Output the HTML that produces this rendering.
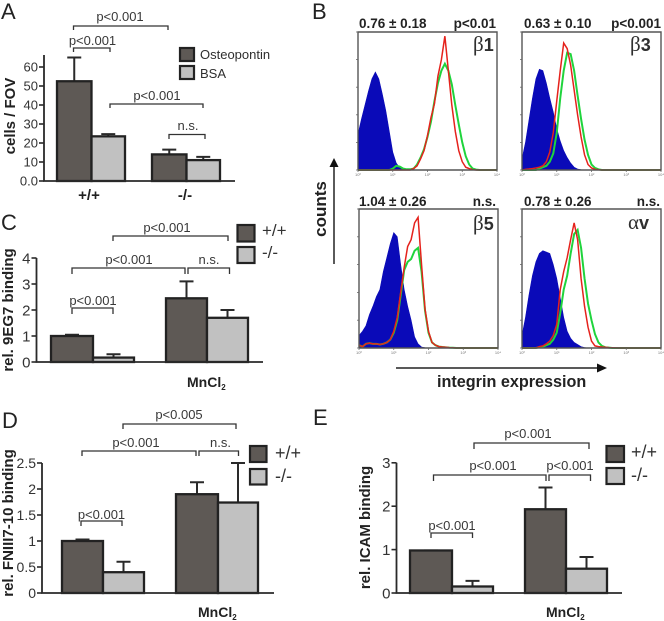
<!DOCTYPE html>
<html lang="en">
<head>
<meta charset="utf-8">
<title>Integrin binding and expression figure</title>
<style>
html,body{margin:0;padding:0;background:#fff;}
svg{display:block;filter:blur(0.35px);}
text{font-family:"Liberation Sans",sans-serif;fill:#2f2f2f;}
.p{font-size:13px;text-anchor:middle;fill:#383838;}
.br{fill:none;stroke:#333;stroke-width:1.3;}
.letter{font-size:22px;fill:#222;}
.ylab{font-size:15px;font-weight:bold;text-anchor:middle;fill:#222;}
.legend{font-size:18px;fill:#333;}
.bold{font-weight:bold;fill:#222;}
.sw{stroke:#222;stroke-width:2.2;}
.dark{fill:#5e5955;}
.light{fill:#c1c1c1;}
</style>
</head>
<body>
<svg id="figure" width="664" height="621" viewBox="0 0 664 621" xmlns="http://www.w3.org/2000/svg">
<rect width="664" height="621" fill="#fff"/>

<g id="panel-a">
<text class="letter" x="1" y="19">A</text>
<text class="ylab" transform="translate(15,116) rotate(-90)">cells / FOV</text>
<path class="br" d="M73.5 30V26H168V30"/>
<text class="p" x="120" y="21">p&lt;0.001</text>
<path class="br" d="M73.5 52V48H110V52"/>
<text class="p" x="92.5" y="45">p&lt;0.001</text>
<path class="br" d="M110 108V104H203V108"/>
<text class="p" x="157" y="100">p&lt;0.001</text>
<path class="br" d="M169 139V134.500H205V139"/>
<text class="p" x="188" y="130">n.s.</text>
<rect class="sw dark" x="180" y="48" width="14" height="13"/>
<rect class="sw light" x="180" y="66" width="14" height="13"/>
<text x="200" y="59" style="font-size:13px">Osteopontin</text>
<text x="200" y="78" style="font-size:13px">BSA</text>
<text class="bold" x="89" y="200" text-anchor="middle" style="font-size:15px">+/+</text>
<text class="bold" x="185" y="200" text-anchor="middle" style="font-size:15px">-/-</text>
</g>

<g id="panel-c">
<text class="letter" x="1" y="230">C</text>
<text class="ylab" transform="translate(13,310) rotate(-90)">rel. 9EG7 binding</text>
<path class="br" d="M113 241V236H228V241"/>
<text class="p" x="167" y="232">p&lt;0.001</text>
<path class="br" d="M72 274V268H185V274"/>
<text class="p" x="129" y="264">p&lt;0.001</text>
<path class="br" d="M188 274V268H229.500V274"/>
<text class="p" x="209" y="264">n.s.</text>
<path class="br" d="M72 314V308H113V314"/>
<text class="p" x="93" y="305">p&lt;0.001</text>
<rect class="sw dark" x="237.500" y="225" width="17" height="16.500"/>
<rect class="sw light" x="237.500" y="247" width="17" height="16"/>
<text class="legend" x="262" y="236" style="font-size:17px">+/+</text>
<text class="legend" x="262" y="258" style="font-size:17px">-/-</text>
<text class="bold" x="187" y="387" style="font-size:14px">MnCl<tspan dy="3" style="font-size:8px">2</tspan></text>
</g>

<g id="panel-d">
<text class="letter" x="2" y="428">D</text>
<text class="ylab" transform="translate(13,523) rotate(-90)">rel. FNIII7-10 binding</text>
<path class="br" d="M123 429V424H236V429"/>
<text class="p" x="179" y="419">p&lt;0.005</text>
<path class="br" d="M82 456V451H196V456"/>
<text class="p" x="136" y="447">p&lt;0.001</text>
<path class="br" d="M199 456V451H238.500V456"/>
<text class="p" x="220.500" y="447">n.s.</text>
<path class="br" d="M81 526V521H122V526"/>
<text class="p" x="101.500" y="519">p&lt;0.001</text>
<rect class="sw dark" x="250" y="446" width="16.500" height="16"/>
<rect class="sw light" x="250" y="469" width="16.500" height="15.500"/>
<text class="legend" x="275" y="459">+/+</text>
<text class="legend" x="275" y="482">-/-</text>
<text class="bold" x="198" y="617" style="font-size:14px">MnCl<tspan dy="3" style="font-size:8px">2</tspan></text>
</g>

<g id="panel-e">
<text class="letter" x="313" y="425">E</text>
<text class="ylab" transform="translate(370,527.500) rotate(-90)">rel. ICAM binding</text>
<path class="br" d="M474 449V443H589V449"/>
<text class="p" x="528" y="438">p&lt;0.001</text>
<path class="br" d="M433.500 481V475H546V481"/>
<text class="p" x="493" y="470">p&lt;0.001</text>
<path class="br" d="M549 481V475H590.500V481"/>
<text class="p" x="570" y="470">p&lt;0.001</text>
<path class="br" d="M431 538V533H472.500V538"/>
<text class="p" x="452" y="530">p&lt;0.001</text>
<rect class="sw dark" x="606.500" y="446" width="17.500" height="16"/>
<rect class="sw light" x="606.500" y="468" width="17.500" height="16"/>
<text class="legend" x="631" y="458">+/+</text>
<text class="legend" x="631" y="481">-/-</text>
<text class="bold" x="546" y="617" style="font-size:14px">MnCl<tspan dy="3" style="font-size:8px">2</tspan></text>
</g>

<g id="panel-b">
<text class="letter" x="312" y="19">B</text>
<text class="bold" x="359" y="28" style="font-size:13.500px">0.76 ± 0.18</text>
<text class="bold" x="496" y="28" text-anchor="end" style="font-size:13.500px">p&lt;0.01</text>
<text class="bold" x="524" y="28" style="font-size:13.500px">0.63 ± 0.10</text>
<text class="bold" x="661" y="28" text-anchor="end" style="font-size:13.500px">p&lt;0.001</text>
<text class="bold" x="359" y="206" style="font-size:13.500px">1.04 ± 0.26</text>
<text class="bold" x="496" y="206" text-anchor="end" style="font-size:13.500px">n.s.</text>
<text class="bold" x="524" y="206" style="font-size:13.500px">0.78 ± 0.26</text>
<text class="bold" x="660" y="206" text-anchor="end" style="font-size:13.500px">n.s.</text>
<path d="M334 264V164" stroke="#222" stroke-width="1.500" fill="none"/>
<path d="M334 158L338.500 167H329.500Z" fill="#111"/>
<text class="bold" transform="translate(326,209) rotate(-90)" text-anchor="middle" style="font-size:17px">counts</text>
<path d="M396 368H600" stroke="#222" stroke-width="1.500" fill="none"/>
<path d="M607 368L597 363.500V372.500Z" fill="#111"/>
<text class="bold" x="437" y="387" style="font-size:16.200px">integrin expression</text>
</g>
<g id="histograms"></g>
<g id="panel-b-labels">
<text x="473" y="51"><tspan style="font-family:'Liberation Serif',serif;font-size:21px">β</tspan><tspan style="font-weight:bold;font-size:18px">1</tspan></text>
<text x="630" y="51"><tspan style="font-family:'Liberation Serif',serif;font-size:21px">β</tspan><tspan style="font-weight:bold;font-size:18px">3</tspan></text>
<text x="473" y="230"><tspan style="font-family:'Liberation Serif',serif;font-size:21px">β</tspan><tspan style="font-weight:bold;font-size:18px">5</tspan></text>
<text x="628" y="229"><tspan style="font-family:'Liberation Serif',serif;font-size:21px">α</tspan><tspan style="font-weight:bold;font-size:18px">v</tspan></text>
</g>
</svg>

<script>
// Bar chart data
const barGroups = ['wt', 'ko', 'wt-mn', 'ko-mn'];
const panelAValues = [52.5, 23.5, 14, 11];
const panelAErrorTops = [65, 24.7, 16.5, 12.7];
const panelATicks = [0, 10, 20, 30, 40, 50, 60];
const panelATickLabels = ['0.0', '10', '20', '30', '40', '50', '60'];
const panelCValues = [1, 0.17, 2.45, 1.7];
const panelCErrorTops = [1.05, 0.3, 3.1, 2.0];
const panelCTicks = [0, 1, 2, 3, 4];
const panelCTickLabels = ['0', '1', '2', '3', '4'];
const panelDValues = [1, 0.4, 1.9, 1.74];
const panelDErrorTops = [1.03, 0.6, 2.13, 2.5];
const panelDTicks = [0, 0.5, 1, 1.5, 2, 2.5];
const panelDTickLabels = ['0', '0.5', '1', '1.5', '2', '2.5'];
const panelEValues = [0.98, 0.15, 1.93, 0.56];
const panelEErrorTops = [0.98, 0.28, 2.43, 0.83];
const panelETicks = [0, 1, 2, 3];
const panelETickLabels = ['0', '1', '2', '3'];

// Histogram data: percent of plot height, one value per 0.1 log decade
const beta1Isotype = [26,37,47,57,66,71,66,55,43,28,13,5,1.5,.5];
const beta1Knockout = [0,0,0,0,0,0,0,0,0,0,1,3,2.5,1,.5,.5,1,4,9,15,24,35,50,63,72,77,72,62,47,33,20,10,4,1,.3];
const beta1Wildtype = [0,0,0,0,0,0,0,0,0,0,0,0,0,0,0,0,1,3,8,14,25,38,48,68,80,97,72,47,28,14,6,2,1,.3];
const beta3Isotype = [8,20,36,52,66,73,72,63,52,42,30,21,14,9,5,2,.7,.2];
const beta3Knockout = [0,0,0,0,0,1,2,3,6,12,27,52,72,85,84,72,54,37,22,11,4,1.5,.5];
const beta3Wildtype = [0,.5,.7,1,1.5,2,3,6,13,27,50,72,92,88,76,58,40,24,11,4,1.5,.5,.2];
const beta5Isotype = [9,12,16,24,30,37,42,55,65,75,83,80,60,42,30,20,8,3,.7,.2];
const beta5Knockout = [2,1,3,3.500,3,3,2.500,3,4,6,11,20,38,56,62,64,70,72,55,27,11,4,2,1,.7,.5,.3,.2];
const beta5Wildtype = [2,1,3,3.500,3,3,2.500,3,4,6,12,22,40,58,73,78,90,94,60,28,12,4,2,1,.7,.5,.3,.2];
const alphaVIsotype = [9,22,38,52,62,68,70,69,68,60,50,36,22,12,7,4,2.500,1,.3];
const alphaVKnockout = [0,0,0,0,0,.5,1,2,3,6,11,25,42,52,68,82,85,72,50,32,20,10,4,1.5,.5,.3];
const alphaVWildtype = [0,0,0,0,0,1,1.5,3,5,9,17,42,55,65,78,90,78,50,30,15,5,1.5,1,.7,.5,.3,.2,.1];
const decadeTicks = [0, 1, 2, 3, 4];
const decadeLabels = ['10⁰', '10¹', '10²', '10³', '10⁴'];

const SVGNS = 'http://www.w3.org/2000/svg';
function make(tag, attrs, parent) {
  const el = document.createElementNS(SVGNS, tag);
  for (const k in attrs) el.setAttribute(k, attrs[k]);
  parent.appendChild(el);
  return el;
}

function drawBarPanel(parent, prefix, geo, values, errorTops, ticks, tickLabels) {
  const y = v => geo.y0 - v * geo.pxPerUnit;
  const axisTop = y(ticks[ticks.length - 1]) - (geo.overhang || 0);
  values.forEach((v, i) => {
    const left = geo.edges[i][0];
    const right = geo.edges[i][1];
    const mid = (left + right) / 2;
    const err = make('path', {
      d: 'M' + mid + ' ' + y(v) + 'V' + y(errorTops[i]) + 'M' + (mid - 7) + ' ' + y(errorTops[i]) + 'H' + (mid + 7),
      stroke: '#2a2a2a', 'stroke-width': 2, fill: 'none'
    }, parent);
    
    
  });
  values.forEach((v, i) => {
    const left = geo.edges[i][0];
    const right = geo.edges[i][1];
    const bar = make('rect', {
      x: left, y: y(v), width: right - left, height: geo.y0 - y(v),
      fill: i % 2 === 0 ? '#5e5955' : '#c1c1c1', stroke: '#222', 'stroke-width': 2.3
    }, parent);
    
    
  });
  ticks.forEach((t, i) => {
    const tk = make('path', {
      d: 'M' + (geo.axisX - 5) + ' ' + y(t) + 'H' + geo.axisX,
      stroke: '#2a2a2a', 'stroke-width': 1.6
    }, parent);
    
    
    const lab = make('text', {
      x: geo.axisX - 6, y: y(t) + geo.tickSize * 0.36, 'text-anchor': 'end',
      style: 'font-size:' + geo.tickSize + 'px;fill:#333'
    }, parent);
    lab.textContent = tickLabels[i];
    
    
  });
  const axis = make('path', {
    d: 'M' + geo.axisX + ' ' + axisTop + 'V' + geo.y0 + 'H' + geo.axisEnd,
    stroke: '#2a2a2a', 'stroke-width': 1.8, fill: 'none'
  }, parent);
  
  
}

drawBarPanel(document.getElementById('panel-a'), 'a',
  { y0: 181, pxPerUnit: 1.9, axisX: 44, axisEnd: 235, tickSize: 13, overhang: 12,
    edges: [[57, 91.5], [91.5, 125], [152, 186.5], [186.5, 220]] },
  panelAValues, panelAErrorTops, panelATicks, panelATickLabels);
drawBarPanel(document.getElementById('panel-c'), 'c',
  { y0: 362, pxPerUnit: 26, axisX: 36.5, axisEnd: 263, tickSize: 15,
    edges: [[51, 93], [93, 134], [166, 207], [207, 248]] },
  panelCValues, panelCErrorTops, panelCTicks, panelCTickLabels);
drawBarPanel(document.getElementById('panel-d'), 'd',
  { y0: 593, pxPerUnit: 52, axisX: 42, axisEnd: 274, tickSize: 14,
    edges: [[62, 103], [103, 144], [176, 218], [218, 258]] },
  panelDValues, panelDErrorTops, panelDTicks, panelDTickLabels);
drawBarPanel(document.getElementById('panel-e'), 'e',
  { y0: 593, pxPerUnit: 43.4, axisX: 396.5, axisEnd: 622, tickSize: 15,
    edges: [[410, 452], [452, 493], [525, 566], [566, 607]] },
  panelEValues, panelEErrorTops, panelETicks, panelETickLabels);

function drawHistogram(parent, name, box, isotype, knockout, wildtype) {
  const xs = d => box.x + d * (box.w / 4);
  const ys = p => box.y + box.h - p / 100 * box.h;
  const bins = 41;
  const at = (arr, i) => i < arr.length ? arr[i] : 0;
  function linePath(arr) {
    let d = '';
    for (let i = 0; i < bins; i++) {
      d += (i === 0 ? 'M' : 'L') + xs(i * 0.1).toFixed(2) + ' ' + ys(at(arr, i)).toFixed(2);
    }
    return d;
  }
  const white = make('rect', { x: box.x, y: box.y, width: box.w, height: box.h, fill: '#fff' }, parent);
  
  
  const blue = make('path', {
    d: linePath(isotype) + 'L' + xs(4) + ' ' + ys(0) + 'L' + xs(0) + ' ' + ys(0) + 'Z',
    fill: '#0a0ab8', stroke: '#0a0ab8', 'stroke-width': 0.6
  }, parent);
  
  
  const green = make('path', { d: linePath(knockout), fill: 'none', stroke: '#1fd43c', 'stroke-width': 2 }, parent);
  
  
  const red = make('path', { d: linePath(wildtype), fill: 'none', stroke: '#e5221c', 'stroke-width': 1.5 }, parent);
  
  
  const frame = make('path', {
    d: 'M' + box.x + ' ' + (box.y + box.h) + 'V' + box.y + 'H' + (box.x + box.w) + 'V' + (box.y + box.h) + 'H' + box.x,
    fill: 'none', stroke: '#555', 'stroke-width': 1.4
  }, parent);
  
  
  decadeTicks.forEach((d, i) => {
    const mark = make('path', {
      d: 'M' + xs(d) + ' ' + (box.y + box.h) + 'v2', stroke: '#666', 'stroke-width': 0.8
    }, parent);
    
    
    const lab = make('text', {
      x: xs(d), y: box.y + box.h + 6, 'text-anchor': 'middle',
      style: 'font-size:4px;fill:#777'
    }, parent);
    lab.textContent = decadeLabels[i];
    
    
  });
  [0, 20, 40, 60, 80, 100].forEach(p => {
    const mark = make('path', {
      d: 'M' + box.x + ' ' + ys(p) + 'h-2', stroke: '#666', 'stroke-width': 0.8
    }, parent);
    
    
  });
}

const hist = document.getElementById('histograms');
drawHistogram(hist, 'beta1', { x: 358, y: 32, w: 139, h: 138 }, beta1Isotype, beta1Knockout, beta1Wildtype);
drawHistogram(hist, 'beta3', { x: 522, y: 32, w: 139, h: 138 }, beta3Isotype, beta3Knockout, beta3Wildtype);
drawHistogram(hist, 'beta5', { x: 359, y: 209, w: 139, h: 139 }, beta5Isotype, beta5Knockout, beta5Wildtype);
drawHistogram(hist, 'alpha-v', { x: 522, y: 209, w: 139, h: 139 }, alphaVIsotype, alphaVKnockout, alphaVWildtype);
</script>
</body>
</html>
